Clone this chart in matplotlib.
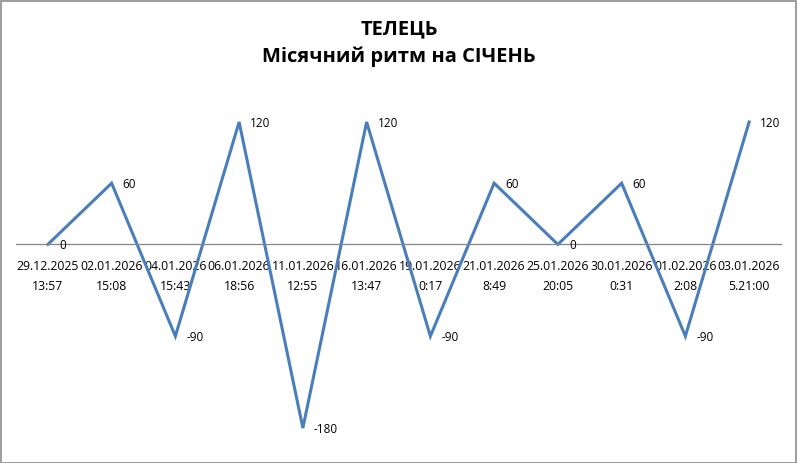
import matplotlib.pyplot as plt
from matplotlib.patches import Rectangle

plt.rcParams['font.family'] = ['Open Sans', 'DejaVu Sans']

dates = ["29.12.2025", "02.01.2026", "04.01.2026", "06.01.2026", "11.01.2026", "16.01.2026",
         "19.01.2026", "21.01.2026", "25.01.2026", "30.01.2026", "01.02.2026", "03.01.2026"]
times = ["13:57", "15:08", "15:43", "18:56", "12:55", "13:47",
         "0:17", "8:49", "20:05", "0:31", "2:08", "5.21:00"]
values = [0, 60, -90, 120, -180, 120, -90, 60, 0, 60, -90, 120]

title = "ТЕЛЕЦЬ\nМісячний ритм на СІЧЕНЬ"
line_color = "#4A7EBB"

fig = plt.figure(figsize=(7.98, 4.63), dpi=100)
ax = fig.add_axes([16 / 798, 1 - 428 / 463, 765 / 798, 306 / 463])

x = list(range(len(values)))
ax.plot(x, values, color=line_color, linewidth=2.2, solid_joinstyle="miter", clip_on=False)

for xi, v in zip(x, values):
    ax.annotate(str(v), (xi, v), xytext=(8, -1), textcoords="offset points",
                ha="left", va="center", fontsize=8.5, color="black")

ax.set_xlim(-0.5, len(values) - 0.5)
ax.set_ylim(-180, 120)

ax.spines["bottom"].set_position(("data", 0))
ax.spines["bottom"].set_color("#868686")
ax.spines["bottom"].set_linewidth(0.9)
for side in ("top", "left", "right"):
    ax.spines[side].set_visible(False)
ax.set_yticks([])
ax.set_xticks(x)
ax.set_xticklabels([f"{d}\n{t}" for d, t in zip(dates, times)], fontsize=8.8, linespacing=1.75)
ax.tick_params(axis="x", length=0, pad=11)

fig.text(0.5, 1 - 43 / 463, title, ha="center", va="center", fontsize=14.5,
         fontweight="bold", linespacing=1.5)

fig.patches.append(Rectangle((0.001, 0.001), 0.997, 0.997, transform=fig.transFigure,
                             fill=False, edgecolor="#8c8c8c", linewidth=1.2))

fig.savefig("out.png", dpi=100, facecolor="white")
